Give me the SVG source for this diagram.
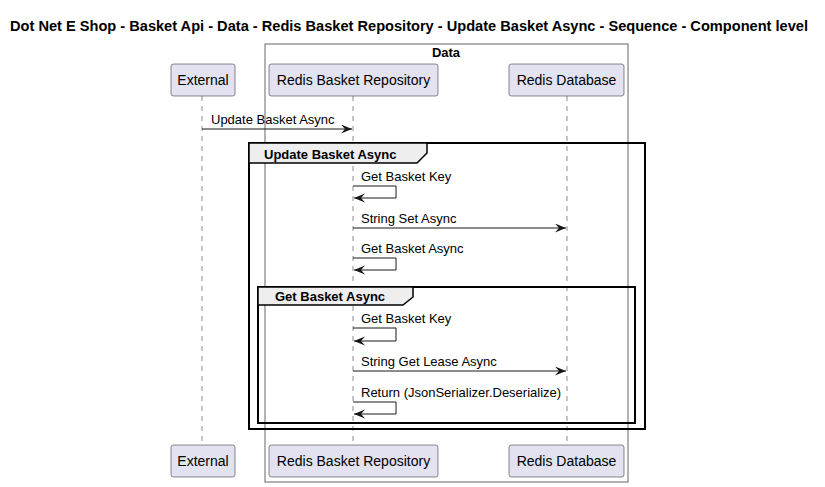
<svg xmlns="http://www.w3.org/2000/svg" width="825" height="487" viewBox="0 0 825 487">
<style>
.title{font-family:"Liberation Sans",Arial,sans-serif;font-size:14px;font-weight:bold;fill:#000}
.pbox{fill:#E2E2F0;stroke:#181818;stroke-width:0.5}
.ptext{font-family:"Liberation Sans",Arial,sans-serif;font-size:14px;fill:#000}
.life{stroke:#181818;stroke-width:0.5;stroke-dasharray:5,5;fill:none}
.msg{stroke:#181818;stroke-width:1;fill:none}
.mtext{font-family:"Liberation Sans",Arial,sans-serif;font-size:13px;fill:#000}
.gtext{font-family:"Liberation Sans",Arial,sans-serif;font-size:13px;font-weight:bold;fill:#000}
.frame{fill:none;stroke:#000;stroke-width:2}
.tab{fill:#EEEEEE;stroke:#000;stroke-width:1.5}
</style>
<defs>
<marker id="arr" markerWidth="12" markerHeight="10" refX="11" refY="4.5" orient="auto" markerUnits="userSpaceOnUse">
<polygon points="0,0 11,4.5 0,9 4,4.5" fill="#181818"/>
</marker>
</defs>
<text class="title" x="409" y="31" text-anchor="middle" textLength="798" lengthAdjust="spacingAndGlyphs">Dot Net E Shop - Basket Api - Data - Redis Basket Repository - Update Basket Async - Sequence - Component level</text>

<g id="data-box">
<rect x="265" y="44" width="363" height="438" fill="none" stroke="#666666" stroke-width="1"/>
<text class="gtext" x="446" y="57" text-anchor="middle">Data</text>
</g>

<g id="lifelines">
<line class="life" x1="202" y1="96" x2="202" y2="445"/>
<line class="life" x1="353" y1="96" x2="353" y2="445"/>
<line class="life" x1="567" y1="96" x2="567" y2="445"/>
</g>

<g id="external">
<rect class="pbox" x="171" y="64" width="64" height="32" rx="2.5"/>
<text class="ptext" x="203" y="85" text-anchor="middle">External</text>
<rect class="pbox" x="171" y="445" width="64" height="32" rx="2.5"/>
<text class="ptext" x="203" y="466" text-anchor="middle">External</text>
</g>
<g id="redis-basket-repository">
<rect class="pbox" x="269" y="64" width="169" height="32" rx="2.5"/>
<text class="ptext" x="353.5" y="85" text-anchor="middle">Redis Basket Repository</text>
<rect class="pbox" x="269" y="445" width="169" height="32" rx="2.5"/>
<text class="ptext" x="353.5" y="466" text-anchor="middle">Redis Basket Repository</text>
</g>
<g id="redis-database">
<rect class="pbox" x="509" y="64" width="115" height="32" rx="2.5"/>
<text class="ptext" x="566.5" y="85" text-anchor="middle">Redis Database</text>
<rect class="pbox" x="509" y="445" width="115" height="32" rx="2.5"/>
<text class="ptext" x="566.5" y="466" text-anchor="middle">Redis Database</text>
</g>

<g id="group-update-basket-async">
<rect class="frame" x="249" y="143" width="396" height="286"/>
<path class="tab" d="M249,143 L427,143 L427,153 L417,163 L249,163 Z"/>
<text class="gtext" x="264" y="159">Update Basket Async</text>
</g>
<g id="group-get-basket-async">
<rect class="frame" x="258" y="287" width="377" height="136"/>
<path class="tab" d="M258,287 L413,287 L413,297 L403,305 L258,305 Z"/>
<text class="gtext" x="275" y="301">Get Basket Async</text>
</g>

<g id="connectors">
<line class="msg" x1="202" y1="129" x2="352" y2="129" marker-end="url(#arr)"/>
<text class="mtext" x="211" y="124">Update Basket Async</text>

<polyline class="msg" points="353,186 396,186 396,198 354,198" marker-end="url(#arr)"/>
<text class="mtext" x="361" y="181">Get Basket Key</text>

<line class="msg" x1="353" y1="228" x2="566" y2="228" marker-end="url(#arr)"/>
<text class="mtext" x="361" y="223">String Set Async</text>

<polyline class="msg" points="353,258 396,258 396,270 354,270" marker-end="url(#arr)"/>
<text class="mtext" x="361" y="253">Get Basket Async</text>

<polyline class="msg" points="353,328 396,328 396,341 354,341" marker-end="url(#arr)"/>
<text class="mtext" x="361" y="323">Get Basket Key</text>

<line class="msg" x1="353" y1="371" x2="566" y2="371" marker-end="url(#arr)"/>
<text class="mtext" x="361" y="366">String Get Lease Async</text>

<polyline class="msg" points="353,402 396,402 396,414 354,414" marker-end="url(#arr)"/>
<text class="mtext" x="361" y="397">Return (JsonSerializer.Deserialize)</text>
</g>
</svg>
